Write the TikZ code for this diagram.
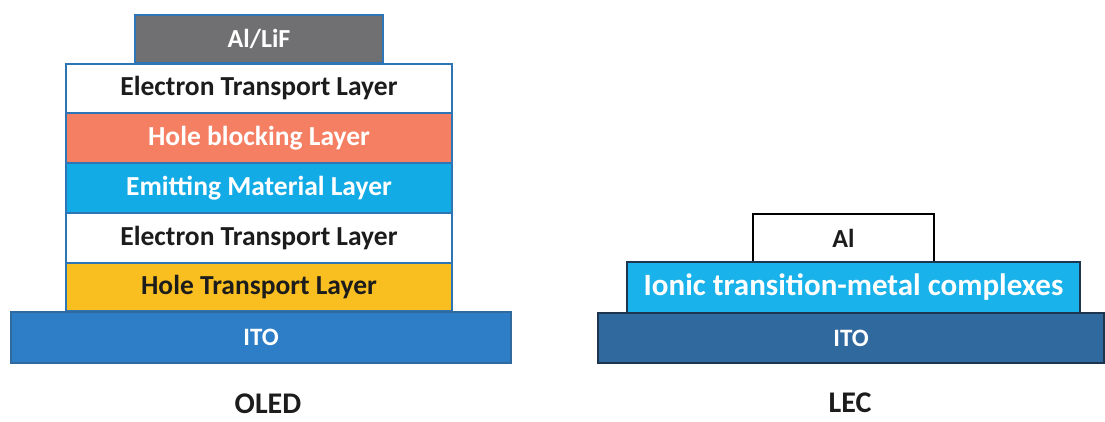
\documentclass[tikz,border=0pt]{standalone}
\usepackage{fontspec}
\setmainfont{Carlito}
\definecolor{grayL}{HTML}{707073}
\definecolor{edgeB}{HTML}{2E75B6}
\definecolor{salmon}{HTML}{F47F62}
\definecolor{emit}{HTML}{12ABE6}
\definecolor{htl}{HTML}{F9BF20}
\definecolor{itoA}{HTML}{2E7EC7}
\definecolor{itoB}{HTML}{30699E}
\definecolor{ionic}{HTML}{1AB2EA}
\definecolor{darkedge}{HTML}{1E3550}
\definecolor{txtd}{HTML}{1C1C1C}
\begin{document}
\begin{tikzpicture}[x=1pt,y=-1pt,
  layer/.style={rectangle,inner sep=0pt,outer sep=0pt,line width=1.5pt,draw=edgeB,
    font=\bfseries\fontsize{27.5}{30}\selectfont},
  lecl/.style={rectangle,inner sep=0pt,outer sep=0pt,line width=1.5pt,draw=darkedge},
  caption/.style={inner sep=0pt,outer sep=0pt,font=\bfseries\fontsize{30}{32}\selectfont,text=txtd}]
\useasboundingbox (0,0) rectangle (1105,421);
% OLED
\node[layer,fill=grayL,text=white,minimum width=248pt,minimum height=48pt,font=\bfseries\fontsize{26}{30}\selectfont] (alf) at (259,39) {Al/LiF};
\node[layer,fill=white,text=txtd,minimum width=386pt,minimum height=49pt] (etla) at (259,88.5) {Electron Transport Layer};
\node[layer,fill=salmon,text=white,minimum width=386pt,minimum height=50pt] (hbl) at (259,138) {Hole blocking Layer};
\node[layer,fill=emit,text=white,minimum width=386pt,minimum height=50pt] (eml) at (259,188) {Emitting Material Layer};
\node[layer,fill=white,text=txtd,minimum width=386pt,minimum height=50pt] (etlb) at (259,238) {Electron Transport Layer};
\node[layer,fill=htl,text=txtd,minimum width=386pt,minimum height=48pt] (htl) at (259,287) {Hole Transport Layer};
\node[layer,draw=itoB,fill=itoA,text=white,minimum width=500pt,minimum height=51pt,font=\bfseries\fontsize{25}{28}\selectfont] (itoa) at (261,337.5) {ITO};
\node[caption] (oled) at (268,404) {OLED};
% LEC
\node[lecl,draw=black,fill=white,text=txtd,minimum width=181pt,minimum height=48pt,font=\bfseries\fontsize{26}{28}\selectfont] (al) at (843.5,238) {Al};
\node[lecl,fill=ionic,text=white,minimum width=453pt,minimum height=51pt,font=\bfseries\fontsize{31}{34}\selectfont] (itm) at (853.5,287.5) {Ionic transition-metal complexes};
\node[lecl,fill=itoB,text=white,minimum width=506pt,minimum height=50pt,font=\bfseries\fontsize{25}{28}\selectfont] (itob) at (851,338) {ITO};
\node[caption] (lec) at (850,403) {LEC};
\end{tikzpicture}
\end{document}
